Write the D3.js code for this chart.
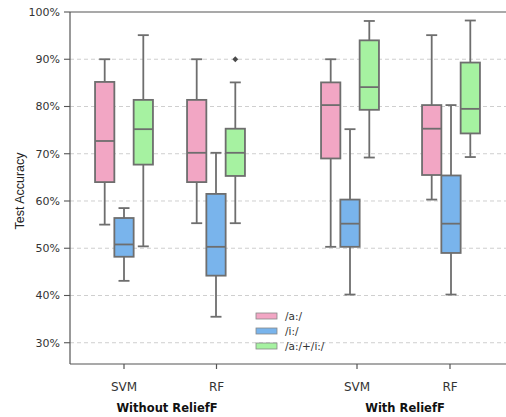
<!DOCTYPE html>
<html>
<head>
<meta charset="utf-8">
<script src="https://cdn.jsdelivr.net/npm/d3@7"></script>
<style>
  body { margin: 0; background: #fff; }
  svg { display: block; }
</style>
</head>
<body>
<div id="chart"></div>
<script>
// categories and groups
const groups = ["Without ReliefF", "With ReliefF"];
const models = ["SVM", "RF", "SVM", "RF"];
const slots = ["woSVM", "woRF", "wSVM", "wRF"];
const series = ["/a:/", "/i:/", "/a:/+/i:/"];
const yTicks = [30, 40, 50, 60, 70, 80, 90, 100];

// box stats per slot: [low whisker, Q1, median, Q3, high whisker]
const statsA = [[55, 64, 72.7, 85.2, 90], [55.3, 64, 70.2, 81.4, 90], [50.3, 69, 80.3, 85.1, 90], [60.3, 65.5, 75.3, 80.3, 95.1]];
const statsI = [[43.1, 48.2, 50.8, 56.4, 58.5], [35.5, 44.2, 50.3, 61.5, 70.2], [40.2, 50.3, 55.2, 60.3, 75.2], [40.2, 49, 55.2, 65.4, 80.3]];
const statsAI = [[50.4, 67.7, 75.2, 81.4, 95.1], [55.3, 65.3, 70.2, 75.3, 85.1], [69.2, 79.3, 84.1, 94, 98.1], [69.3, 74.3, 79.5, 89.3, 98.2]];
// outliers: [slot index, series index, value]
const outliers = [[1, 2, 90]];

const colors = ["#f2a6c4", "#79b4ec", "#a6f2a1"];
const edge = "#6e6e6e";

function main() {
    const W = 506, H = 417;
    const left = 70, top = 12, bottom = 364;

    const svg = d3.select("#chart").append("svg")
        .attr("width", W).attr("height", H)
        .style("font-family", "'DejaVu Sans', sans-serif");

    const y = d3.scaleLinear().domain([25.5, 100]).range([bottom, top]);
    // slot centres (layout)
    const x = d3.scaleOrdinal().domain(slots).range([124, 216, 350, 451]);
    const boxW = 19.3;
    const inner = d3.scaleBand().domain(series).range([-1.5 * boxW, 1.5 * boxW]).padding(0);
    const capW = 11;

    // gridlines
    svg.append("g").selectAll("line")
        .data(yTicks.filter(d => d < 100))
        .enter().append("line")
        .attr("x1", left).attr("x2", W)
        .attr("y1", d => y(d)).attr("y2", d => y(d))
        .attr("stroke", "#cfcfcf").attr("stroke-width", 1)
        .attr("stroke-dasharray", "4,3");

    // y axis
    const ya = svg.append("g").selectAll("g")
        .data(yTicks).enter().append("g")
        .attr("transform", d => `translate(0,${y(d)})`);
    ya.append("line").attr("x1", left - 6).attr("x2", left)
        .attr("stroke", "#555").attr("stroke-width", 1.1);
    ya.append("text")
        .attr("x", 60).attr("dy", "0.35em").attr("text-anchor", "end")
        .attr("font-size", 11).attr("fill", "#333")
        .text(d => d + "%");

    // spines
    svg.append("line").attr("x1", left).attr("x2", left).attr("y1", top).attr("y2", bottom)
        .attr("stroke", "#555").attr("stroke-width", 1.2);
    svg.append("line").attr("x1", left).attr("x2", W).attr("y1", top).attr("y2", top)
        .attr("stroke", "#555").attr("stroke-width", 1.2);
    svg.append("line").attr("x1", left).attr("x2", W).attr("y1", bottom).attr("y2", bottom)
        .attr("stroke", "#555").attr("stroke-width", 1.2);

    // boxes
    const allStats = [statsA, statsI, statsAI];
    const boxes = [];
    allStats.forEach((st, si) => st.forEach((s, ci) => boxes.push({ si, ci, s })));

    const g = svg.append("g").selectAll("g")
        .data(boxes).enter().append("g")
        .attr("transform", d => `translate(${x(slots[d.ci]) + inner(series[d.si]) + boxW / 2},0)`);

    g.append("line").attr("x1", 0).attr("x2", 0)
        .attr("y1", d => y(d.s[0])).attr("y2", d => y(d.s[1]))
        .attr("stroke", edge).attr("stroke-width", 1.8);
    g.append("line").attr("x1", 0).attr("x2", 0)
        .attr("y1", d => y(d.s[3])).attr("y2", d => y(d.s[4]))
        .attr("stroke", edge).attr("stroke-width", 1.8);
    g.append("line").attr("x1", -capW / 2).attr("x2", capW / 2)
        .attr("y1", d => y(d.s[0])).attr("y2", d => y(d.s[0]))
        .attr("stroke", edge).attr("stroke-width", 1.8);
    g.append("line").attr("x1", -capW / 2).attr("x2", capW / 2)
        .attr("y1", d => y(d.s[4])).attr("y2", d => y(d.s[4]))
        .attr("stroke", edge).attr("stroke-width", 1.8);
    g.append("rect")
        .attr("x", -boxW / 2).attr("width", boxW)
        .attr("y", d => y(d.s[3])).attr("height", d => y(d.s[1]) - y(d.s[3]))
        .attr("fill", d => colors[d.si])
        .attr("stroke", edge).attr("stroke-width", 1.8);
    g.append("line").attr("x1", -boxW / 2).attr("x2", boxW / 2)
        .attr("y1", d => y(d.s[2])).attr("y2", d => y(d.s[2]))
        .attr("stroke", edge).attr("stroke-width", 1.8);

    // outliers
    svg.append("g").selectAll("path")
        .data(outliers).enter().append("path")
        .attr("d", d3.symbol(d3.symbolDiamond2, 22))
        .attr("transform", d => `translate(${x(slots[d[0]]) + inner(series[d[1]]) + boxW / 2},${y(d[2])})`)
        .attr("fill", "#4a4a4a");

    // x ticks and labels
    const xt = svg.append("g").selectAll("g")
        .data(slots).enter().append("g")
        .attr("transform", (d, i) => `translate(${[124, 216.5, 357, 450][i]},${bottom})`);
    xt.append("line").attr("y1", 0).attr("y2", 5).attr("stroke", "#555").attr("stroke-width", 1.2);
    xt.append("text").attr("y", 27).attr("text-anchor", "middle")
        .attr("font-size", 12).attr("fill", "#333")
        .text((d, i) => models[i]);

    // group labels
    svg.append("g").selectAll("text")
        .data(groups).enter().append("text")
        .attr("x", (d, i) => [167, 405][i]).attr("y", 412)
        .attr("text-anchor", "middle")
        .attr("font-size", 11.5).attr("font-weight", "bold").attr("fill", "#111")
        .text(d => d);

    // y title
    svg.append("text")
        .attr("transform", "translate(24,191) rotate(-90)")
        .attr("text-anchor", "middle")
        .attr("font-family", "'Liberation Sans', Arial, sans-serif")
        .attr("font-size", 12.5).attr("fill", "#222")
        .text("Test Accuracy");

    // legend
    const lg = svg.append("g").selectAll("g")
        .data(series).enter().append("g")
        .attr("transform", (d, i) => `translate(256,${316 + i * 15})`);
    lg.append("rect").attr("x", 0).attr("y", -3).attr("width", 21).attr("height", 6)
        .attr("fill", (d, i) => colors[i]).attr("stroke", "#888").attr("stroke-width", 0.8);
    lg.append("text").attr("x", 29).attr("dy", "0.35em")
        .attr("font-size", 10.5).attr("fill", "#333")
        .text(d => d);
}

main();
</script>
</body>
</html>
